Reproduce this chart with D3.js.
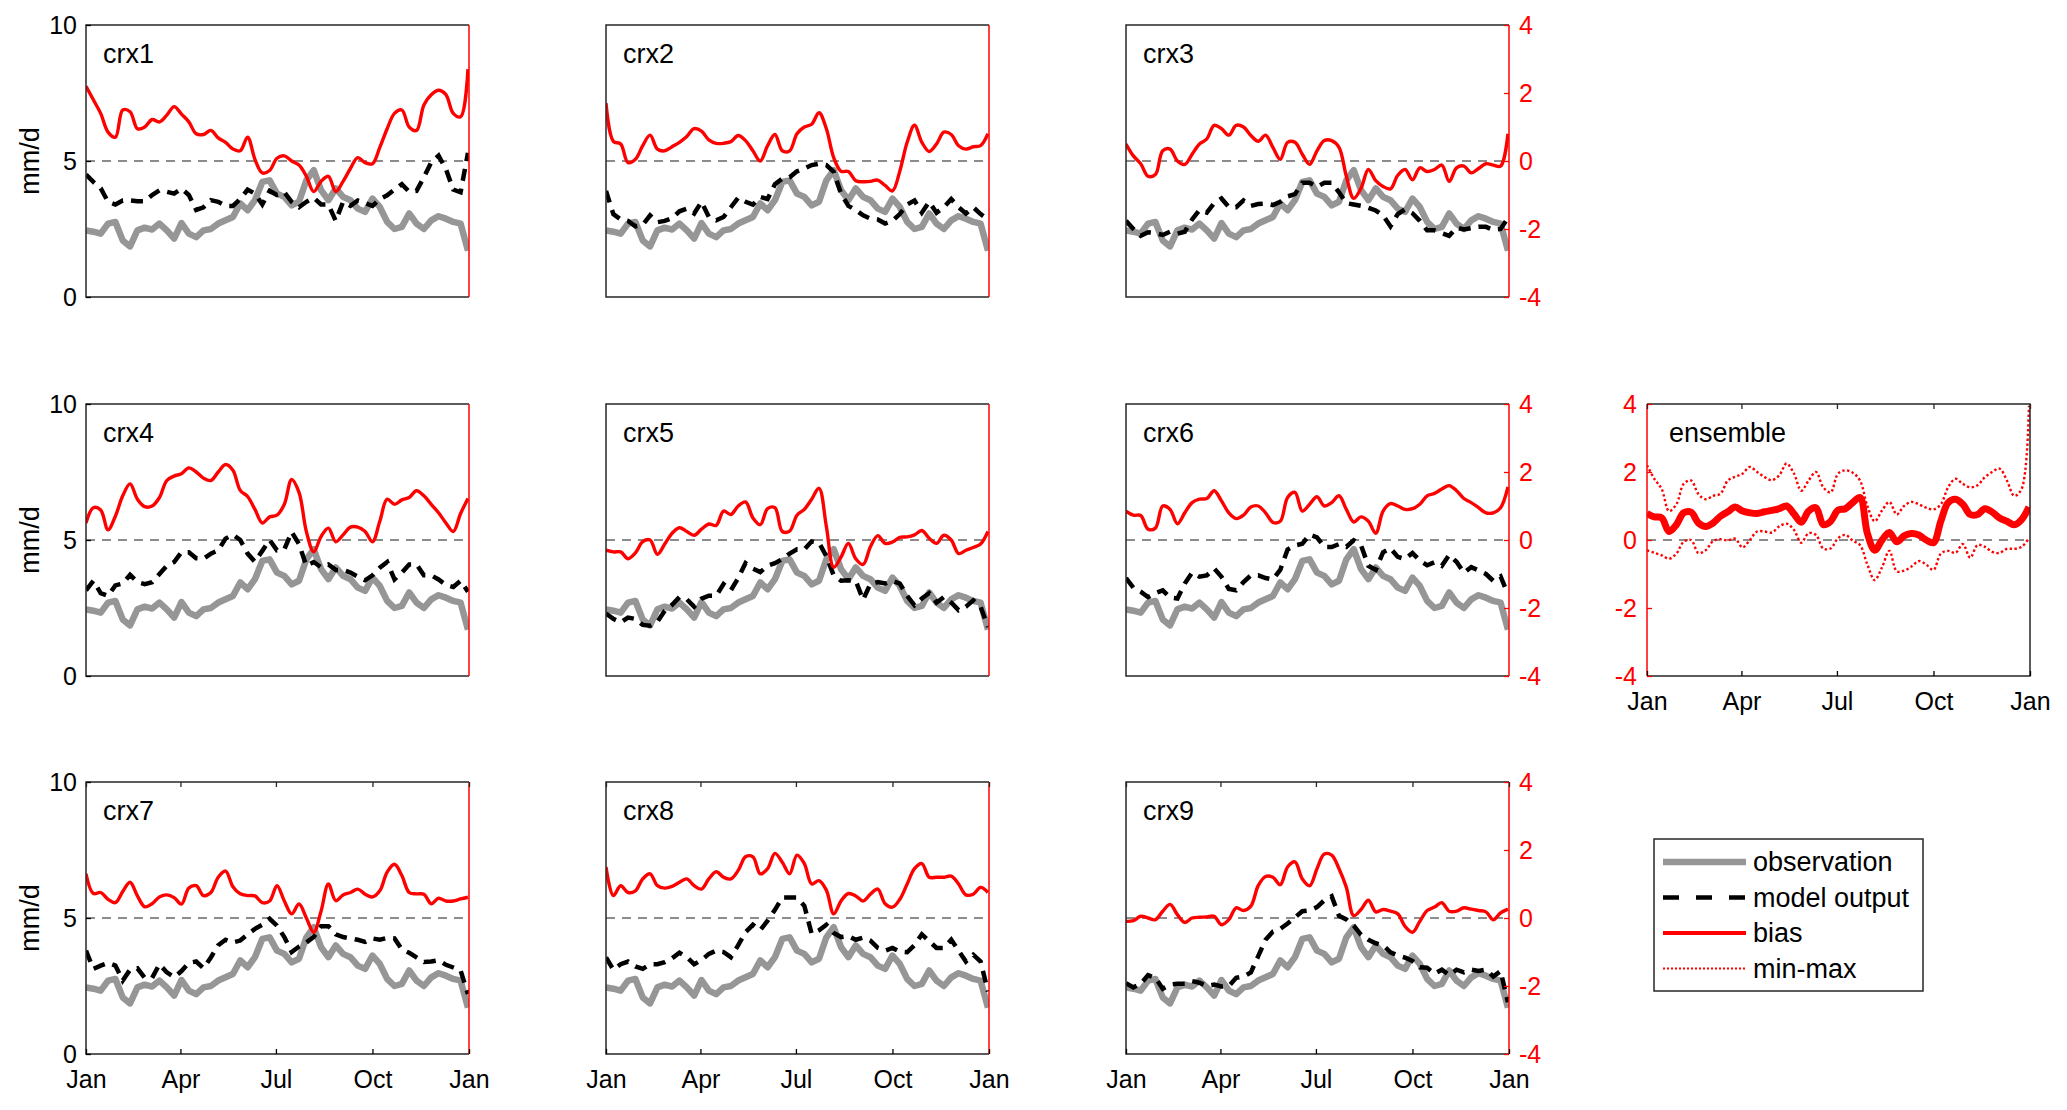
<!DOCTYPE html>
<html>
<head>
<meta charset="utf-8">
<script src="https://cdn.jsdelivr.net/npm/d3@7"></script>
<style>
  body { margin: 0; background: #fff; }
  svg { display: block; }
</style>
</head>
<body>
<div id="chart"></div>
<script>
// day of year for each sample (weekly)
const days = [0,7,14,21,28,35,42,49,56,63,70,77,84,91,98,105,112,119,126,133,140,147,154,161,168,175,
  182,189,196,203,210,217,224,231,238,245,252,259,266,273,280,287,294,301,308,315,322,329,336,343,350,357,364];

const monthDays = [0, 90, 181, 273, 365];
const monthLabels = ["Jan", "Apr", "Jul", "Oct", "Jan"];
const leftTicks = [0, 5, 10];
const rightTicks = [-4, -2, 0, 2, 4];

// observation (mm/d), same in every panel
const observation = [2.45,2.4,2.33,2.7,2.76,2.08,1.86,2.45,2.55,2.48,2.7,2.45,2.15,2.72,2.33,2.2,2.45,2.5,2.7,2.82,
  2.94,3.44,3.19,3.56,4.23,4.29,3.8,3.68,3.37,3.5,4.29,4.66,3.93,3.56,3.99,3.68,3.56,3.25,3.13,3.62,
  3.31,2.76,2.5,2.58,3.07,2.7,2.5,2.82,2.97,2.88,2.76,2.7,1.7];

// model output (mm/d)
const modelCrx1 = [4.5,4.23,4.0,3.5,3.4,3.55,3.55,3.52,3.52,3.75,3.92,3.87,3.8,3.98,3.75,3.2,3.3,3.56,3.5,3.35,
  3.35,3.6,3.95,3.8,3.4,3.9,3.75,3.85,3.5,3.3,3.5,3.65,3.4,3.4,2.8,3.5,3.35,3.55,3.45,3.35,
  3.6,3.74,3.95,4.15,3.87,3.9,4.4,4.95,5.2,4.7,3.95,3.85,5.3];
const modelCrx2 = [3.9,3.05,2.85,2.8,2.6,2.65,3.0,2.75,2.8,2.9,3.15,3.25,3.07,3.5,2.94,2.82,2.94,3.3,3.65,3.5,
  3.4,3.68,3.6,4.15,4.35,4.4,4.62,4.72,4.85,4.9,4.85,4.6,3.8,3.35,3.2,3.0,2.88,2.85,2.7,2.8,
  3.05,3.4,3.55,3.1,3.5,3.1,3.3,3.6,3.3,3.07,3.3,3.05,2.85];
const modelCrx3 = [2.8,2.5,2.25,2.38,2.35,2.28,2.4,2.33,2.4,2.85,3.2,3.1,3.45,3.62,3.31,3.3,3.55,3.35,3.42,3.44,
  3.38,3.5,3.7,3.78,4.2,4.2,4.05,4.2,4.2,3.85,3.45,3.4,3.35,3.28,3.18,3.0,2.6,3.05,3.22,3.08,
  2.8,2.45,2.45,2.35,2.25,2.55,2.48,2.53,2.58,2.58,2.47,2.5,2.9];
const modelCrx4 = [3.15,3.5,3.05,2.95,3.33,3.4,3.72,3.45,3.38,3.45,3.75,4.05,4.19,4.55,4.55,4.33,4.31,4.5,4.62,5.05,
  5.2,5.0,4.5,4.2,4.6,5.0,4.62,4.65,5.3,4.85,4.05,4.19,4.0,4.1,3.9,3.9,3.8,3.65,3.52,3.7,
  3.98,4.19,3.55,3.8,4.1,4.1,3.7,3.7,3.55,3.35,3.27,3.5,3.1];
const modelCrx5 = [2.3,2.1,1.97,2.15,2.1,1.88,1.85,2.0,2.4,2.62,2.9,2.82,2.55,2.84,2.95,2.95,3.38,3.15,3.6,4.15,
  3.95,3.82,4.05,4.15,4.3,4.5,4.66,4.65,4.95,4.9,4.4,3.7,3.5,3.52,3.5,2.8,3.39,3.45,3.4,3.5,
  3.4,2.95,2.6,2.85,3.05,2.7,2.9,2.7,2.42,2.55,2.78,2.55,1.8];
const modelCrx6 = [3.6,3.25,3.1,2.9,3.05,3.15,2.88,2.85,3.4,3.8,3.65,3.7,3.95,3.65,3.2,3.15,3.45,3.7,3.7,3.6,
  3.55,3.9,4.65,4.8,4.86,5.2,5.1,4.74,4.74,4.85,4.75,4.99,4.8,4.05,3.9,4.55,4.7,4.38,4.3,4.52,
  4.25,4.07,4.18,4.05,4.45,4.2,3.8,4.0,3.88,3.75,3.5,3.66,3.0];
const modelCrx7 = [3.8,3.13,3.25,3.35,3.25,2.7,3.1,3.15,2.8,2.8,3.3,3.0,2.82,3.05,3.35,3.4,3.15,3.55,4.0,4.2,
  4.1,4.17,4.4,4.6,4.75,4.97,4.72,4.3,3.75,3.95,4.1,4.3,4.7,4.7,4.4,4.3,4.25,4.2,4.12,4.25,
  4.2,4.27,4.25,3.85,3.72,3.55,3.38,3.4,3.45,3.28,3.18,3.07,2.2];
const modelCrx8 = [3.55,3.1,3.3,3.4,3.22,3.13,3.3,3.3,3.38,3.52,3.72,3.56,3.3,3.45,3.68,3.8,3.75,3.56,4.0,4.48,
  4.75,4.55,4.9,5.3,5.75,5.75,5.75,5.45,4.42,4.55,4.75,4.45,4.3,4.34,4.2,4.28,4.17,3.9,3.8,3.9,
  3.76,3.74,4.0,4.4,4.15,3.9,3.9,4.2,3.8,3.4,3.65,3.4,2.3];
const modelCrx9 = [2.6,2.45,2.58,2.9,2.8,2.4,2.55,2.58,2.58,2.68,2.62,2.5,2.55,2.48,2.5,2.8,2.85,3.0,3.6,4.2,
  4.5,4.6,4.8,5.02,5.25,5.28,5.4,5.65,5.8,5.08,4.95,4.72,4.38,4.2,4.07,4.0,3.74,3.62,3.54,3.42,
  3.19,3.17,2.95,3.1,2.9,3.1,3.0,3.1,3.05,3.1,2.85,3.05,1.9];

// bias (right axis)
const biasCrx1 = [2.2,1.8,1.4,0.85,0.7,1.5,1.45,0.95,1.0,1.22,1.15,1.35,1.6,1.38,1.15,0.8,0.78,0.9,0.68,0.55,
  0.35,0.3,0.7,0.05,-0.35,-0.28,0.08,0.15,0.0,-0.12,-0.45,-0.9,-0.6,-0.45,-0.9,-0.6,-0.22,0.1,-0.05,-0.08,
  0.4,0.95,1.4,1.5,1.0,0.9,1.65,1.95,2.08,1.95,1.4,1.3,2.7];
const biasCrx2 = [1.7,0.58,0.5,-0.05,0.05,0.45,0.76,0.35,0.3,0.42,0.55,0.72,0.95,0.88,0.62,0.52,0.52,0.57,0.75,0.6,
  0.3,0.0,0.45,0.78,0.3,0.3,0.8,1.0,1.08,1.42,0.95,0.1,-0.3,-0.31,-0.58,-0.61,-0.6,-0.56,-0.72,-0.88,
  -0.3,0.55,1.05,0.55,0.28,0.5,0.85,0.78,0.45,0.35,0.42,0.45,0.8];
const biasCrx3 = [0.5,0.15,-0.08,-0.45,-0.4,0.3,0.35,0.0,-0.1,0.2,0.5,0.65,1.05,0.95,0.76,1.05,1.0,0.75,0.58,0.76,
  0.4,0.05,0.55,0.55,0.2,-0.1,0.3,0.6,0.6,0.4,-0.45,-1.1,-0.8,-0.25,-0.58,-0.75,-0.82,-0.42,-0.25,-0.55,
  -0.2,-0.31,-0.25,-0.12,-0.6,-0.2,-0.15,-0.35,-0.22,-0.08,-0.12,-0.15,0.8];
const biasCrx4 = [0.5,0.95,0.88,0.3,0.7,1.3,1.65,1.2,0.98,1.0,1.25,1.75,1.88,1.95,2.12,2.0,1.82,1.75,2.0,2.22,
  2.05,1.46,1.28,0.9,0.5,0.68,0.73,1.05,1.78,1.4,0.25,-0.35,0.1,0.35,-0.05,0.15,0.38,0.38,0.25,-0.05,
  0.55,1.2,1.05,1.18,1.25,1.45,1.3,1.05,0.8,0.5,0.25,0.78,1.22];
const biasCrx5 = [-0.3,-0.35,-0.35,-0.55,-0.38,-0.05,0.0,-0.42,-0.12,0.2,0.36,0.25,0.14,0.32,0.47,0.43,0.85,0.75,1.0,1.12,
  0.65,0.45,0.92,0.95,0.25,0.26,0.73,0.9,1.2,1.52,0.4,-0.8,-0.5,-0.1,-0.55,-0.72,-0.2,0.13,-0.1,-0.06,
  0.08,0.09,0.15,0.28,0.05,-0.1,0.14,0.0,-0.4,-0.3,-0.22,-0.12,0.25];
const biasCrx6 = [0.85,0.73,0.72,0.32,0.35,1.0,0.9,0.48,0.8,1.1,1.2,1.22,1.45,1.15,0.8,0.63,0.73,0.97,1.0,0.8,
  0.52,0.55,1.25,1.4,0.85,1.05,1.27,1.0,1.1,1.3,0.9,0.53,0.68,0.55,0.2,0.85,1.07,1.0,0.9,0.92,
  1.05,1.3,1.37,1.5,1.6,1.45,1.22,1.1,0.95,0.8,0.8,0.95,1.56];
const biasCrx7 = [1.3,0.72,0.75,0.55,0.45,0.78,1.05,0.65,0.33,0.42,0.62,0.68,0.6,0.41,0.88,0.95,0.66,0.75,1.2,1.38,
  0.92,0.71,0.66,0.65,0.45,0.5,0.95,0.5,0.12,0.41,0.0,-0.42,0.2,1.0,0.51,0.68,0.75,0.85,0.7,0.62,
  0.8,1.35,1.58,1.25,0.75,0.71,0.7,0.42,0.58,0.5,0.5,0.56,0.61];
const biasCrx8 = [1.5,0.66,0.95,0.75,0.8,1.15,1.3,0.95,0.88,0.93,1.05,1.15,0.95,0.85,1.15,1.36,1.2,1.15,1.4,1.8,
  1.8,1.3,1.45,1.9,1.64,1.3,1.85,1.6,1.0,1.1,0.82,0.12,0.5,0.72,0.65,0.5,0.7,0.85,0.42,0.32,
  0.55,1.0,1.45,1.6,1.2,1.2,1.2,1.23,1.0,0.68,0.7,0.9,0.75];
const biasCrx9 = [-0.1,-0.08,0.05,0.0,-0.05,0.2,0.4,0.1,-0.13,0.0,0.02,0.03,0.05,-0.2,-0.05,0.3,0.22,0.35,0.95,1.22,
  1.2,0.98,1.5,1.65,1.15,0.95,1.45,1.88,1.85,1.45,0.9,0.07,0.25,0.52,0.18,0.25,0.2,0.12,-0.25,-0.42,
  -0.1,0.22,0.32,0.45,0.2,0.2,0.3,0.26,0.22,0.18,-0.05,0.15,0.26];

// ensemble bias: mean and min-max envelope
const ensembleMean = [0.78,0.68,0.65,0.25,0.45,0.8,0.82,0.5,0.4,0.5,0.7,0.83,0.97,0.85,0.8,0.78,0.83,0.87,0.92,1.0,
  0.77,0.52,0.85,0.95,0.45,0.55,0.88,0.92,1.1,1.25,0.2,-0.3,0.0,0.22,-0.05,0.12,0.19,0.15,0.0,-0.08,
  0.55,1.1,1.2,1.05,0.75,0.75,0.92,0.82,0.65,0.55,0.45,0.6,0.97];
const ensembleMax = [2.2,1.8,1.5,0.85,1.05,1.65,1.75,1.35,1.2,1.3,1.36,1.75,1.86,1.95,2.15,2.0,1.85,1.76,1.9,2.25,
  1.96,1.45,1.75,2.0,1.55,1.4,1.95,2.05,1.98,1.75,1.0,0.55,0.87,1.12,0.75,1.0,1.12,1.05,0.95,0.9,
  1.05,1.55,1.8,1.65,1.55,1.61,1.85,2.0,2.1,1.75,1.3,1.5,3.95];
const ensembleMin = [-0.3,-0.38,-0.45,-0.55,-0.4,-0.05,0.0,-0.38,-0.3,-0.03,0.02,-0.01,0.04,-0.22,0.0,0.25,0.25,0.22,0.4,0.48,
  0.3,-0.08,0.2,0.15,-0.25,-0.25,0.05,0.15,-0.02,-0.15,-0.72,-1.18,-0.8,-0.32,-0.92,-0.9,-0.78,-0.62,-0.72,-0.88,
  -0.4,-0.32,-0.38,-0.12,-0.52,-0.15,-0.2,-0.35,-0.38,-0.26,-0.26,-0.2,0.05];

const panels = [
  { name: "crx1", model: modelCrx1, bias: biasCrx1 },
  { name: "crx2", model: modelCrx2, bias: biasCrx2 },
  { name: "crx3", model: modelCrx3, bias: biasCrx3 },
  { name: "crx4", model: modelCrx4, bias: biasCrx4 },
  { name: "crx5", model: modelCrx5, bias: biasCrx5 },
  { name: "crx6", model: modelCrx6, bias: biasCrx6 },
  { name: "crx7", model: modelCrx7, bias: biasCrx7 },
  { name: "crx8", model: modelCrx8, bias: biasCrx8 },
  { name: "crx9", model: modelCrx9, bias: biasCrx9 }
];

const width = 2067, height = 1110;
const colX = [86, 606, 1126], rowY = [25, 404, 782];
const ensX = 1647, ensY = 404;
const panelW = 383, panelH = 272;
const font = "'Liberation Sans', Arial, sans-serif";
const gray = "#969696", red = "#ff0000", frame = "#262626";
const plainNum = d => String(d);   // hyphen minus, like the original

const svg = d3.select("#chart")
    .append("svg")
    .attr("width", width)
    .attr("height", height)
    .attr("viewBox", [0, 0, width, height])
    .style("font-family", font);

const x = d3.scaleLinear().domain([0, 365]).range([0, panelW]);
const yLeft = d3.scaleLinear().domain([0, 10]).range([panelH, 0]);
const yRight = d3.scaleLinear().domain([-4, 4]).range([panelH, 0]);

function series(values, yScale, curve) {
    return d3.line()
        .curve(curve)
        .x((d, i) => x(days[i]))
        .y(d => yScale(d))(values);
}

function styleAxis(g, color, size) {
    g.select(".domain").remove();
    g.selectAll(".tick line").attr("stroke", color).attr("stroke-width", 1.3);
    g.selectAll(".tick text")
        .attr("fill", color)
        .attr("font-size", size)
        .attr("font-family", font);
}

function monthAxes(g) {
    g.append("g")
        .attr("transform", `translate(0,${panelH})`)
        .call(d3.axisBottom(x).tickValues(monthDays)
            .tickFormat((d, i) => monthLabels[i])
            .tickSizeInner(-5).tickSizeOuter(0).tickPadding(16))
        .call(a => styleAxis(a, "#000", 25));
    g.append("g")
        .call(d3.axisTop(x).tickValues(monthDays).tickFormat("")
            .tickSizeInner(-5).tickSizeOuter(0))
        .call(a => styleAxis(a, frame, 25));
}

function zeroLine(g) {
    g.append("line")
        .attr("x1", 0).attr("x2", panelW)
        .attr("y1", yRight(0)).attr("y2", yRight(0))
        .attr("stroke", "#8c8c8c")
        .attr("stroke-width", 2)
        .attr("stroke-dasharray", "9,7");
}

panels.forEach((p, i) => {
    const col = i % 3, row = Math.floor(i / 3);
    const g = svg.append("g")
        .attr("transform", `translate(${colX[col]},${rowY[row]})`);

    g.append("clipPath")
        .attr("id", "clip" + i)
        .append("rect")
        .attr("width", panelW)
        .attr("height", panelH);

    const plot = g.append("g").attr("clip-path", `url(#clip${i})`);

    zeroLine(plot);

    plot.append("path")
        .attr("d", series(observation, yLeft, d3.curveLinear))
        .attr("fill", "none")
        .attr("stroke", gray)
        .attr("stroke-width", 6.5)
        .attr("stroke-linejoin", "round");

    plot.append("path")
        .attr("d", series(p.model, yLeft, d3.curveLinear))
        .attr("fill", "none")
        .attr("stroke", "#000")
        .attr("stroke-width", 4.5)
        .attr("stroke-dasharray", "12,8");

    plot.append("path")
        .attr("d", series(p.bias, yRight, d3.curveCatmullRom))
        .attr("fill", "none")
        .attr("stroke", red)
        .attr("stroke-width", 3.4)
        .attr("stroke-linejoin", "round");

    // frame: black on three sides, red right spine
    g.append("path")
        .attr("d", `M${panelW},0H0V${panelH}H${panelW}`)
        .attr("fill", "none")
        .attr("stroke", frame)
        .attr("stroke-width", 1.5);
    g.append("line")
        .attr("x1", panelW).attr("x2", panelW)
        .attr("y1", 0).attr("y2", panelH)
        .attr("stroke", red)
        .attr("stroke-width", 1.5);

    g.append("text")
        .attr("x", 17)
        .attr("y", 38)
        .attr("font-size", 27)
        .attr("fill", "#000")
        .text(p.name);

    if (col === 0) {
        g.append("g")
            .call(d3.axisLeft(yLeft).tickValues(leftTicks).tickFormat(plainNum)
                .tickSizeInner(-5).tickSizeOuter(0).tickPadding(9))
            .call(a => styleAxis(a, "#000", 25));
        g.append("text")
            .attr("transform", `translate(${30 - colX[0]},${panelH / 2}) rotate(-90)`)
            .attr("text-anchor", "middle")
            .attr("dy", "0.35em")
            .attr("font-size", 27)
            .attr("fill", "#000")
            .text("mm/d");
    }
    if (col === 2) {
        g.append("g")
            .attr("transform", `translate(${panelW},0)`)
            .call(d3.axisRight(yRight).tickValues(rightTicks).tickFormat(plainNum)
                .tickSizeInner(-5).tickSizeOuter(0).tickPadding(10))
            .call(a => styleAxis(a, red, 25));
    }
    if (row === 2) monthAxes(g);
});

// ensemble panel
const ens = svg.append("g").attr("transform", `translate(${ensX},${ensY})`);
ens.append("clipPath").attr("id", "clipEns")
    .append("rect").attr("width", panelW).attr("height", panelH);
const ensPlot = ens.append("g").attr("clip-path", "url(#clipEns)");
zeroLine(ensPlot);
[ensembleMax, ensembleMin].forEach(v => {
    ensPlot.append("path")
        .attr("d", series(v, yRight, d3.curveCatmullRom))
        .attr("fill", "none")
        .attr("stroke", red)
        .attr("stroke-width", 2.4)
        .attr("stroke-dasharray", "2.4,2.4");
});
ensPlot.append("path")
    .attr("d", series(ensembleMean, yRight, d3.curveCatmullRom))
    .attr("fill", "none")
    .attr("stroke", red)
    .attr("stroke-width", 7)
    .attr("stroke-linejoin", "round");
ens.append("path")
    .attr("d", `M0,0H${panelW}V${panelH}H0`)
    .attr("fill", "none")
    .attr("stroke", frame)
    .attr("stroke-width", 1.5);
ens.append("line")
    .attr("x1", 0).attr("x2", 0).attr("y1", 0).attr("y2", panelH)
    .attr("stroke", red).attr("stroke-width", 1.5);
ens.append("g")
    .call(d3.axisLeft(yRight).tickValues(rightTicks).tickFormat(plainNum)
        .tickSizeInner(-5).tickSizeOuter(0).tickPadding(10))
    .call(a => styleAxis(a, red, 25));
monthAxes(ens);
ens.append("text")
    .attr("x", 22).attr("y", 38)
    .attr("font-size", 27)
    .attr("fill", "#000")
    .text("ensemble");

// legend
const legendItems = [
    { label: "observation", stroke: gray, width: 6.5, dash: null },
    { label: "model output", stroke: "#000", width: 4.5, dash: "16,17" },
    { label: "bias", stroke: red, width: 4, dash: null },
    { label: "min-max", stroke: red, width: 2.2, dash: "2,2" }
];
const legend = svg.append("g").attr("transform", "translate(1654,839)");
legend.append("rect")
    .attr("width", 269).attr("height", 152)
    .attr("fill", "#fff")
    .attr("stroke", frame)
    .attr("stroke-width", 1.5);
const item = legend.selectAll("g.item")
    .data(legendItems)
    .join("g")
    .attr("class", "item")
    .attr("transform", (d, i) => `translate(0,${23 + i * 35.5})`);
item.append("line")
    .attr("x1", 9).attr("x2", 92)
    .attr("stroke", d => d.stroke)
    .attr("stroke-width", d => d.width)
    .attr("stroke-dasharray", d => d.dash);
item.append("text")
    .attr("x", 99)
    .attr("dy", "0.35em")
    .attr("font-size", 27)
    .attr("fill", "#000")
    .text(d => d.label);
</script>
</body>
</html>
